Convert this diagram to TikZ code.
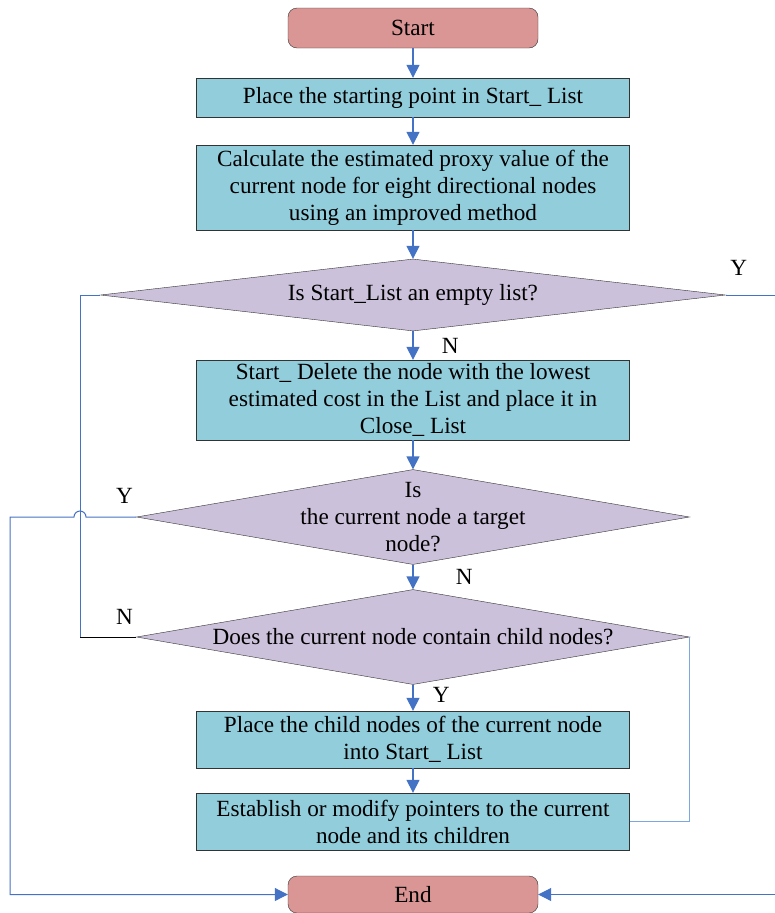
\documentclass[tikz,border=0pt]{standalone}
\usepackage{fontspec}
\setmainfont{Liberation Serif}
\usetikzlibrary{shapes.geometric,arrows.meta}
\definecolor{termcolor}{HTML}{D99694}
\definecolor{proccolor}{HTML}{92CDDC}
\definecolor{deccolor}{HTML}{CCC1DA}
\definecolor{linecolor}{HTML}{4472C4}
\definecolor{backcolor}{HTML}{7EA6E0}

\begin{document}
\begin{tikzpicture}[x=1pt, y=-1pt,
			font=\fontsize{23.2}{27}\selectfont,
			terminal/.style={rectangle, rounded corners=9pt, draw=black!80, fill=termcolor, thin, minimum width=250pt, minimum height=40pt, inner sep=0pt},
			process/.style={rectangle, draw=black!80, fill=proccolor, thin, minimum width=433pt, align=center, inner sep=0pt},
			decision/.style={diamond, draw=black!80, fill=deccolor, thin, inner sep=0pt},
			flow/.style={draw=linecolor, line width=1.5pt, -{Triangle[width=13pt,length=13pt]}},
			loop/.style={draw=linecolor, line width=1pt},
			answer/.style={inner sep=0pt}
		]
		\useasboundingbox (0,0) rectangle (775,913);

		\node[terminal] (start) at (413,28) {Start};
		\node[process, minimum height=39pt] (place) at (413,97.5) {Place the starting point in Start\_ List};
		\node[process, minimum height=85pt] (calc) at (413,187.5) {Calculate the estimated proxy value of the\\current node for eight directional nodes\\using an improved method};
		\node[decision, minimum width=625pt, minimum height=72pt, label={center:Is Start\_List an empty list?}] (empty) at (413,295) {};
		\node[process, minimum height=80pt] (remove) at (413,400) {Start\_ Delete the node with the lowest\\estimated cost in the List and place it in\\Close\_ List};
		\node[decision, minimum width=553pt, minimum height=95pt, label={[align=center]center:Is\\the current node a target\\node?}] (target) at (413,517) {};
		\node[decision, minimum width=553pt, minimum height=95pt, label={center:Does the current node contain child nodes?}] (child) at (413,637) {};
		\node[process, minimum height=57pt] (addchild) at (413,739.5) {Place the child nodes of the current node\\into Start\_ List};
		\node[process, minimum height=57pt] (pointer) at (413,821.5) {Establish or modify pointers to the current\\node and its children};
		\node[terminal, minimum height=37pt] (end) at (413,894.5) {End};

		%main line
		\draw[flow] (start) -- (place);
		\draw[flow] (place) -- (calc);
		\draw[flow] (calc) -- (empty);
		\draw[flow] (empty) -- node[answer, right=28pt] {N} (remove);
		\draw[flow] (remove) -- (target);
		\draw[flow] (target) -- node[answer, right=42pt] {N} (child);
		\draw[flow] (child) -- node[answer, right=19pt, yshift=3pt] {Y} (addchild);
		\draw[flow] (addchild) -- (pointer);

		%exits to end
		\draw[flow, line width=1pt] (empty.east) -- node[answer, pos=0.25, above=19pt] {Y} ++(52,0) |- (end.east);
		\draw[flow, line width=1pt] (target.west) -- node[answer, pos=0.235, above=13pt] {Y} (86,517)
			arc[start angle=0, end angle=180, radius=6pt] -- (10,517) |- (end.west);

		%back loops
		\draw[black, line width=1pt] (child.west) -- node[answer, pos=0.21, above=12pt] {N} (80,637);
		\draw[loop] (80,637) -- (80,295) -- (empty.west);
		\draw[loop, line width=0.8pt, draw=backcolor] (pointer.east) -| (child.east);
		\end{tikzpicture}
\end{document}
